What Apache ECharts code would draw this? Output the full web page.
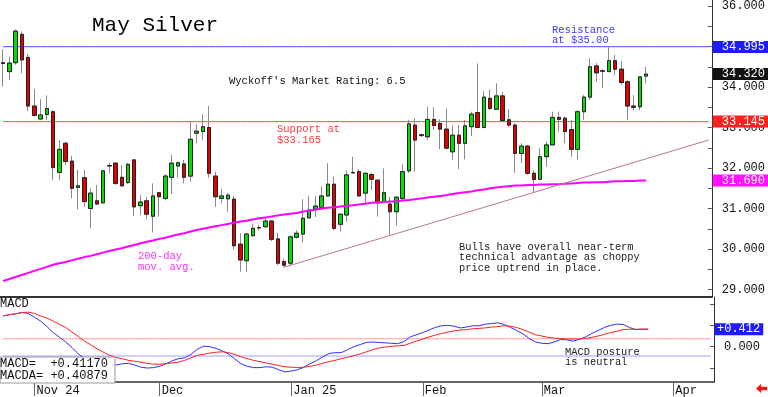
<!DOCTYPE html>
<html>
<head>
<meta charset="UTF-8">
<title>May Silver</title>
<script src="https://cdn.jsdelivr.net/npm/echarts@6/dist/echarts.min.js"></script>
</head>
<body style="margin:0;background:#fff;">
<div id="container" style="width:768px;height:397px;"></div>
<script>
// daily candles, Oct 25 2024 .. Mar 26 2025 (index = trading day)
var opens = [34.60,34.38,34.60,35.30,34.73,33.53,33.21,33.32,33.39,31.89,
  32.61,32.17,31.52,31.76,31.00,31.19,31.14,32.05,32.12,31.77,
  31.64,32.20,31.07,31.19,30.81,31.39,31.25,31.77,32.05,32.10,
  31.80,32.86,32.90,33.00,31.80,31.25,31.24,31.23,30.12,29.71,
  30.33,30.53,30.55,30.69,30.25,29.69,29.65,30.29,30.37,30.77,
  30.98,31.03,31.31,31.60,30.61,30.84,31.88,31.91,31.38,31.84,
  31.70,31.17,31.11,30.92,31.25,31.93,33.06,32.80,32.77,33.20,
  33.10,32.96,32.40,32.81,32.61,33.02,33.37,33.00,33.72,33.45,
  33.78,33.19,33.06,32.36,32.54,31.87,31.72,32.28,32.57,33.25,
  33.23,32.95,32.46,33.39,33.75,34.52,34.40,34.38,34.65,34.44,
  34.13,33.53,33.51,34.27];
var closes = [34.58,34.59,35.38,34.67,33.53,33.30,33.31,33.47,32.01,32.46,
  32.16,31.50,31.56,31.17,31.38,31.11,31.93,32.06,31.62,31.56,
  32.09,31.04,31.16,30.86,31.31,31.29,31.80,32.12,32.13,31.77,
  32.71,32.91,33.02,31.87,31.29,31.31,31.33,30.08,29.73,30.37,
  30.51,30.52,30.69,30.24,29.65,29.60,30.30,30.39,30.76,30.96,
  31.06,31.31,31.60,30.51,30.86,31.83,31.89,31.31,31.87,31.72,
  31.14,31.39,30.92,31.28,31.91,33.09,32.69,32.82,33.20,33.05,
  32.96,32.49,32.81,32.61,33.04,33.33,33.00,33.75,33.47,33.78,
  33.17,33.06,32.36,32.54,31.87,31.72,32.28,32.57,33.25,33.20,
  32.90,32.46,33.39,33.75,34.50,34.35,34.39,34.65,34.44,34.11,
  33.53,33.50,34.25,34.32];
var lows = [34.01,34.17,34.55,34.34,33.41,33.27,33.19,33.19,31.70,31.70,
  32.07,31.25,30.98,31.04,30.51,31.09,31.12,31.87,31.58,31.54,
  31.61,30.81,30.84,30.73,30.41,30.80,31.20,31.36,31.77,31.62,
  31.66,32.61,32.69,31.76,31.04,31.13,30.92,29.98,29.44,29.44,
  30.30,30.46,30.53,30.19,29.60,29.55,29.60,30.26,30.16,30.76,
  30.79,30.96,31.29,30.47,30.43,30.67,31.87,31.29,31.11,31.46,
  30.80,31.14,30.35,30.58,31.17,31.88,31.91,32.77,32.69,32.94,
  32.46,32.46,32.20,31.97,32.21,32.79,32.98,32.98,33.43,33.43,
  33.14,33.02,31.88,32.13,31.83,31.38,31.70,32.03,32.57,32.90,
  32.61,32.28,32.21,33.19,33.68,34.13,33.97,34.38,34.30,34.06,
  33.19,33.43,33.43,34.09];
var highs = [34.93,34.75,35.42,35.37,34.81,33.95,33.70,33.79,33.42,32.69,
  32.65,32.30,31.95,31.95,31.50,31.58,31.95,32.13,32.15,32.07,
  32.13,32.21,31.33,31.29,31.62,31.39,31.85,32.32,32.16,32.20,
  33.16,33.08,33.33,33.53,31.91,31.48,31.38,31.31,30.39,30.40,
  30.63,30.60,30.77,30.72,30.40,29.75,30.34,30.47,31.23,31.31,
  31.31,31.54,32.12,31.79,30.88,31.94,32.28,31.98,31.89,31.88,
  31.70,31.99,31.29,31.29,32.09,33.19,33.23,32.85,33.51,33.50,
  33.20,33.47,33.06,33.06,33.19,33.39,34.58,33.90,33.94,34.09,
  33.88,33.45,33.10,32.61,32.57,31.95,32.49,32.65,33.39,33.39,
  33.27,33.19,33.43,33.80,34.71,34.59,34.44,35.00,34.79,34.64,
  34.17,33.80,34.25,34.50];
var ma200 = [29.21,29.26,29.31,29.36,29.41,29.46,29.51,29.56,29.61,29.65,
  29.68,29.72,29.76,29.80,29.83,29.87,29.91,29.95,29.99,30.02,
  30.06,30.10,30.14,30.18,30.21,30.25,30.28,30.32,30.36,30.39,
  30.43,30.47,30.50,30.53,30.56,30.59,30.62,30.65,30.68,30.70,
  30.73,30.76,30.78,30.80,30.83,30.85,30.87,30.89,30.92,30.95,
  30.97,31.00,31.02,31.03,31.05,31.07,31.08,31.10,31.12,31.14,
  31.15,31.16,31.17,31.18,31.20,31.21,31.23,31.25,31.27,31.29,
  31.31,31.33,31.36,31.38,31.40,31.42,31.45,31.47,31.50,31.52,
  31.54,31.55,31.57,31.57,31.58,31.58,31.59,31.59,31.60,31.60,
  31.61,31.62,31.63,31.64,31.64,31.65,31.65,31.66,31.67,31.67,
  31.68,31.68,31.69,31.69];
var macd = [0.72,0.75,0.77,0.80,0.78,0.69,0.60,0.47,0.33,0.22,
  0.11,-0.02,-0.17,-0.27,-0.35,-0.41,-0.44,-0.44,-0.43,-0.40,
  -0.39,-0.43,-0.48,-0.50,-0.49,-0.46,-0.40,-0.33,-0.28,-0.26,
  -0.18,-0.06,0.01,0.00,-0.04,-0.10,-0.17,-0.29,-0.40,-0.46,
  -0.49,-0.49,-0.47,-0.48,-0.54,-0.59,-0.57,-0.54,-0.48,-0.40,
  -0.33,-0.24,-0.16,-0.14,-0.14,-0.07,0.00,0.05,0.10,0.11,
  0.10,0.09,0.08,0.07,0.12,0.23,0.28,0.33,0.39,0.45,
  0.49,0.50,0.48,0.44,0.46,0.49,0.49,0.53,0.54,0.56,
  0.52,0.45,0.38,0.30,0.19,0.11,0.08,0.07,0.11,0.17,
  0.16,0.13,0.17,0.23,0.31,0.38,0.45,0.50,0.53,0.52,
  0.45,0.40,0.41,0.412];
var macda = [0.72,0.75,0.77,0.80,0.81,0.78,0.72,0.67,0.60,0.52,
  0.45,0.34,0.24,0.13,0.04,-0.05,-0.13,-0.20,-0.25,-0.28,
  -0.32,-0.34,-0.36,-0.39,-0.41,-0.41,-0.40,-0.38,-0.36,-0.32,
  -0.26,-0.20,-0.18,-0.15,-0.13,-0.12,-0.14,-0.18,-0.24,-0.28,
  -0.32,-0.35,-0.38,-0.41,-0.44,-0.47,-0.48,-0.49,-0.48,-0.46,
  -0.43,-0.39,-0.35,-0.32,-0.28,-0.25,-0.21,-0.17,-0.12,-0.07,
  -0.03,-0.01,0.01,0.02,0.03,0.08,0.13,0.18,0.23,0.27,
  0.31,0.34,0.37,0.39,0.40,0.42,0.43,0.44,0.46,0.47,
  0.49,0.48,0.45,0.40,0.34,0.28,0.25,0.22,0.20,0.19,
  0.18,0.18,0.18,0.19,0.22,0.25,0.29,0.33,0.36,0.40,
  0.41,0.41,0.41,0.409];

var monthTicks = {5: 'Nov 24', 25: 'Dec', 46: 'Jan 25', 67: 'Feb', 86: 'Mar', 107: 'Apr'};
var slotCount = 114;
var priceLabels = [29, 30, 31, 32, 33, 34, 35, 36];
var priceTicks = [29, 29.5, 30, 30.5, 31, 31.5, 32, 32.5, 33, 33.5, 34, 34.5, 35, 35.5, 36];
var macdLabels = [0];
var macdTicks = [-0.5, 0, 0.5, 1];
var resistance = 34.995;
var support = 33.145;
var trendFrom = [45, 29.55];
var trendTo = [113, 32.69];
var lastClose = 34.32;
var lastMa = 31.69;
var lastMacd = 0.412;
var macdRefRed = 0.185;
var macdRefBlue = -0.22;

var cats = [];
for (var i = 0; i < slotCount; i++) cats.push(String(i));
var ohlc = [], bodies = [];
for (var i = 0; i < opens.length; i++) {
  ohlc.push([opens[i], closes[i], lows[i], highs[i]]);
  bodies.push([opens[i], closes[i], Math.min(opens[i], closes[i]), Math.max(opens[i], closes[i])]);
}

var MONO = '"Liberation Mono", "DejaVu Sans Mono", monospace';
function boxLabel(text, bg, padLeft) {
  return {
    show: true, position: 'end', distance: 1, formatter: text, opacity: 1,
    color: '#fff', backgroundColor: bg, padding: [1, 3, 0, padLeft],
    fontFamily: MONO, fontSize: 12, lineHeight: 11
  };
}
// value tag on the right axis, its own line kept invisible
function tag(value, label) {
  return {yAxis: value, lineStyle: {color: 'rgba(255,255,255,0)', width: 0.01}, label: label};
}
// horizontal level drawn as a flat line series across every slot
function levelSeries(name, axis, value, color, width) {
  return {
    name: name, type: 'line', xAxisIndex: axis, yAxisIndex: axis, silent: true, z: 1,
    data: cats.map(function () { return value; }),
    showSymbol: false, lineStyle: {color: color, width: width, type: 'solid'}
  };
}
function isMonth(idx) { return monthTicks[idx] !== undefined; }

var myChart = echarts.init(document.getElementById('container'));
var option = {
  animation: false,
  backgroundColor: '#fff',
  grid: [
    {left: 0, right: 54, top: 0, height: 297},
    {left: 0, right: 54, top: 297, height: 86}
  ],
  xAxis: [
    {type: 'category', gridIndex: 0, data: cats, boundaryGap: true,
     axisLine: {show: true, onZero: false, lineStyle: {color: '#333', width: 2}},
     axisTick: {show: false}, axisLabel: {show: false}, splitLine: {show: false}},
    {type: 'category', gridIndex: 1, data: cats, boundaryGap: true,
     axisLine: {show: true, onZero: false, lineStyle: {color: '#333', width: 1.5}},
     axisTick: {show: true, interval: function (idx) { return isMonth(idx); },
                alignWithLabel: true, length: 14, lineStyle: {color: '#666'}},
     axisLabel: {show: true, interval: function (idx) { return isMonth(idx); },
                 formatter: function (v, idx) { return monthTicks[idx] || ''; },
                 align: 'left', padding: [0, 0, 0, 2], margin: 3,
                 fontFamily: MONO, fontSize: 12, color: '#111'},
     splitLine: {show: false}}
  ],
  yAxis: [
    {type: 'value', gridIndex: 0, position: 'right', min: 28.815, max: 36.148,
     axisLine: {show: true, lineStyle: {color: '#333'}},
     axisTick: {show: true, inside: true, length: 4, customValues: priceTicks, lineStyle: {color: '#555'}},
     axisLabel: {customValues: priceLabels, margin: 10, fontFamily: MONO, fontSize: 12, color: '#111',
                 formatter: function (v) { return v.toFixed(3); }},
     splitLine: {show: false}},
    {type: 'value', gridIndex: 1, position: 'right', min: -0.827, max: 1.164,
     axisLine: {show: true, lineStyle: {color: '#333'}},
     axisTick: {show: true, inside: true, length: 4, customValues: macdTicks, lineStyle: {color: '#555'}},
     axisLabel: {customValues: macdLabels, margin: 10, fontFamily: MONO, fontSize: 12, color: '#111',
                 formatter: function (v) { return v.toFixed(3); }},
     splitLine: {show: false}}
  ],
  series: [
    levelSeries('resistance', 0, resistance, '#4a4aff', 1),
    levelSeries('support', 0, support, '#ff4848', 1),
    levelSeries('macdRed', 1, macdRefRed, '#ff9a9a', 1),
    levelSeries('macdBlue', 1, macdRefBlue, '#d0d0ff', 2),
    {
      name: 'wicks', type: 'candlestick', xAxisIndex: 0, yAxisIndex: 0,
      data: ohlc, barWidth: 4,
      itemStyle: {color: '#8a8a8a', color0: '#8a8a8a', borderColor: '#8a8a8a', borderColor0: '#8a8a8a', borderWidth: 1}
    },
    {
      name: 'bodies', type: 'candlestick', xAxisIndex: 0, yAxisIndex: 0,
      data: bodies, barWidth: 4,
      itemStyle: {color: '#00dd00', color0: '#e00000', borderColor: '#222', borderColor0: '#222', borderWidth: 1}
    },
    {
      name: '200-day', type: 'line', xAxisIndex: 0, yAxisIndex: 0,
      data: ma200, showSymbol: false, smooth: false, z: 3,
      lineStyle: {color: '#ff00ff', width: 2},
      markLine: {
        silent: true, symbol: 'none',
        data: [
          [{coord: trendFrom, lineStyle: {color: '#b47a8c', width: 1, type: 'solid'}, label: {show: false}},
           {coord: trendTo}],
          tag(resistance, boxLabel('34.995', '#1c1cff', 9)),
          tag(support, boxLabel('33.145', '#ff2020', 9)),
          tag(lastClose, boxLabel('34.320', '#111', 9)),
          tag(lastMa, boxLabel('31.690', '#ff10ff', 9))
        ]
      }
    },
    {
      name: 'MACD', type: 'line', xAxisIndex: 1, yAxisIndex: 1,
      data: macd, showSymbol: false, lineStyle: {color: '#3030ff', width: 1},
      markLine: {silent: true, symbol: 'none',
        data: [tag(lastMacd, boxLabel('+0.412', '#1c1cff', 2))]}
    },
    {
      name: 'MACDA', type: 'line', xAxisIndex: 1, yAxisIndex: 1,
      data: macda, showSymbol: false, lineStyle: {color: '#ff2020', width: 1}
    }
  ],
  graphic: [
    {type: 'text', x: 92, y: 25, z: 10,
     style: {text: 'May Silver', font: '21px ' + MONO, fill: '#000', verticalAlign: 'middle'}},
    {type: 'text', x: 229, y: 81, z: 10,
     style: {text: "Wyckoff's Market Rating: 6.5", font: '10.5px ' + MONO, fill: '#111', verticalAlign: 'middle'}},
    {type: 'text', x: 552, y: 24.5, z: 10,
     style: {text: 'Resistance\nat $35.00', font: '10.5px ' + MONO, fill: '#3a3aff', lineHeight: 10.5, verticalAlign: 'top'}},
    {type: 'text', x: 277, y: 123.5, z: 10,
     style: {text: 'Support at\n$33.165', font: '10.5px ' + MONO, fill: '#ff3a3a', lineHeight: 11, verticalAlign: 'top'}},
    {type: 'text', x: 138, y: 251, z: 10,
     style: {text: '200-day\nmov. avg.', font: '10.5px ' + MONO, fill: '#ff30ff', lineHeight: 10.7, verticalAlign: 'top'}},
    {type: 'text', x: 459, y: 241.5, z: 10,
     style: {text: 'Bulls have overall near-term\ntechnical advantage as choppy\nprice uptrend in place.',
             font: '10.4px ' + MONO, fill: '#222', lineHeight: 10.8, verticalAlign: 'top'}},
    {type: 'text', x: 565, y: 347, z: 10,
     style: {text: 'MACD posture\nis neutral', font: '10.4px ' + MONO, fill: '#222', lineHeight: 10.3, verticalAlign: 'top'}},
    {type: 'text', x: 0, y: 304, z: 10,
     style: {text: 'MACD', font: '12px ' + MONO, fill: '#111', verticalAlign: 'middle'}},
    {type: 'rect', z: 10, shape: {x: 0, y: 357, width: 115, height: 26},
     style: {fill: '#fff', stroke: '#999', lineWidth: 1}},
    {type: 'text', x: 0, y: 357.5, z: 11,
     style: {text: 'MACD=  +0.41170\nMACDA= +0.40879', font: '12px ' + MONO, fill: '#111', lineHeight: 12, verticalAlign: 'top'}},
    {type: 'polygon', z: 10,
     shape: {points: [[756, 388.5], [761, 384], [761, 386.8], [767, 386.8], [767, 390.2], [761, 390.2], [761, 393]]},
     style: {fill: '#ff1010'}}
  ]
};
myChart.setOption(option);
</script>
</body>
</html>
